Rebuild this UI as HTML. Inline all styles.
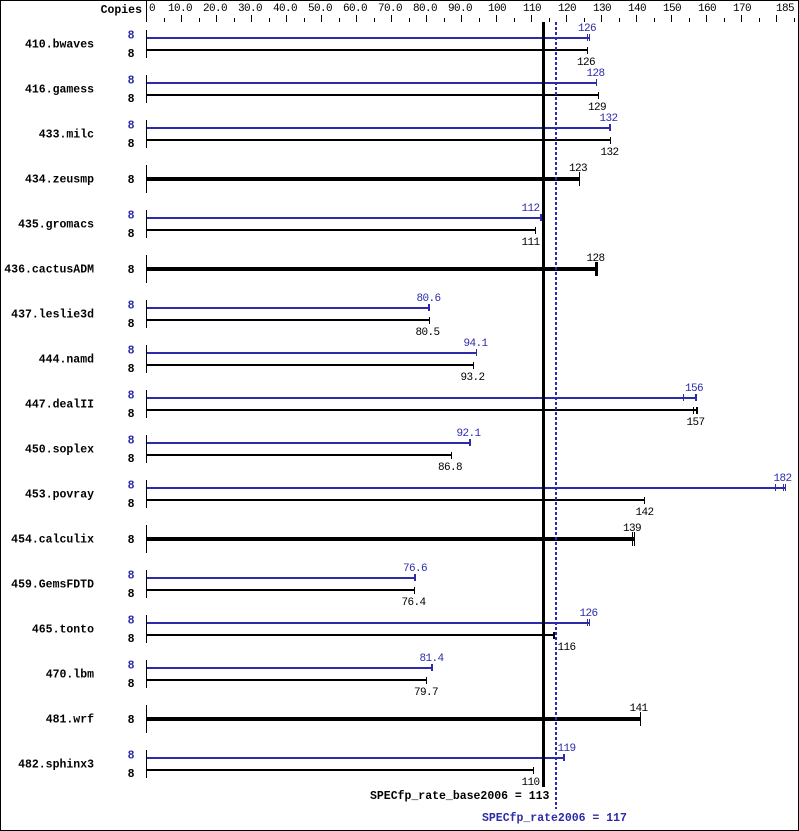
<!DOCTYPE html>
<html><head><meta charset="utf-8">
<style>
html,body{margin:0;padding:0;background:#fff;}
svg{display:block;}
.v{font-family:"Liberation Mono",monospace;font-size:11px;letter-spacing:-0.6px;text-anchor:middle;}
.a{font-family:"Liberation Mono",monospace;font-size:11px;letter-spacing:-0.6px;}
.n{font-family:"Liberation Mono",monospace;font-size:11.5px;font-weight:bold;text-anchor:end;}
.c{font-family:"Liberation Mono",monospace;font-size:11.5px;font-weight:bold;text-anchor:end;}
.b{fill:#2b2bab;}
.k{fill:#000;}
</style></head>
<body>
<svg width="799" height="831" viewBox="0 0 799 831" xmlns="http://www.w3.org/2000/svg" shape-rendering="crispEdges">
<rect x="0.5" y="0.5" width="798" height="830" fill="#fff" stroke="#000" stroke-width="1"/>

<!-- top axis -->
<text x="142" y="13" class="c">Copies</text>
<rect x="146" y="1" width="1" height="21" fill="#000"/>
<g fill="#000">
<rect x="181" y="15" width="1" height="7"/><rect x="216" y="15" width="1" height="7"/><rect x="251" y="15" width="1" height="7"/><rect x="286" y="15" width="1" height="7"/><rect x="321" y="15" width="1" height="7"/><rect x="356" y="15" width="1" height="7"/><rect x="391" y="15" width="1" height="7"/><rect x="426" y="15" width="1" height="7"/><rect x="461" y="15" width="1" height="7"/><rect x="496" y="15" width="1" height="7"/><rect x="531" y="15" width="1" height="7"/><rect x="566" y="15" width="1" height="7"/><rect x="601" y="15" width="1" height="7"/><rect x="636" y="15" width="1" height="7"/><rect x="671" y="15" width="1" height="7"/><rect x="706" y="15" width="1" height="7"/><rect x="741" y="15" width="1" height="7"/><rect x="776" y="15" width="1" height="7"/>
<rect x="164" y="18" width="1" height="4"/><rect x="199" y="18" width="1" height="4"/><rect x="234" y="18" width="1" height="4"/><rect x="269" y="18" width="1" height="4"/><rect x="304" y="18" width="1" height="4"/><rect x="339" y="18" width="1" height="4"/><rect x="374" y="18" width="1" height="4"/><rect x="409" y="18" width="1" height="4"/><rect x="444" y="18" width="1" height="4"/><rect x="479" y="18" width="1" height="4"/><rect x="514" y="18" width="1" height="4"/><rect x="549" y="18" width="1" height="4"/><rect x="584" y="18" width="1" height="4"/><rect x="619" y="18" width="1" height="4"/><rect x="654" y="18" width="1" height="4"/><rect x="689" y="18" width="1" height="4"/><rect x="724" y="18" width="1" height="4"/><rect x="759" y="18" width="1" height="4"/><rect x="794" y="18" width="1" height="4"/>
</g>
<g class="a" fill="#000">
<text x="149" y="11">0</text>
<text x="180" y="11" text-anchor="middle">10.0</text>
<text x="215" y="11" text-anchor="middle">20.0</text>
<text x="250" y="11" text-anchor="middle">30.0</text>
<text x="285" y="11" text-anchor="middle">40.0</text>
<text x="320" y="11" text-anchor="middle">50.0</text>
<text x="355" y="11" text-anchor="middle">60.0</text>
<text x="390" y="11" text-anchor="middle">70.0</text>
<text x="425" y="11" text-anchor="middle">80.0</text>
<text x="460" y="11" text-anchor="middle">90.0</text>
<text x="497" y="11" text-anchor="middle">100</text>
<text x="532" y="11" text-anchor="middle">110</text>
<text x="567" y="11" text-anchor="middle">120</text>
<text x="602" y="11" text-anchor="middle">130</text>
<text x="637" y="11" text-anchor="middle">140</text>
<text x="672" y="11" text-anchor="middle">150</text>
<text x="707" y="11" text-anchor="middle">160</text>
<text x="742" y="11" text-anchor="middle">170</text>
<text x="794" y="11" text-anchor="end">185</text>
</g>

<!-- row axis segments -->
<g fill="#000">
<rect x="146" y="30" width="1" height="28"/><rect x="146" y="75" width="1" height="28"/><rect x="146" y="120" width="1" height="28"/><rect x="146" y="165" width="1" height="28"/><rect x="146" y="210" width="1" height="28"/><rect x="146" y="255" width="1" height="28"/><rect x="146" y="300" width="1" height="28"/><rect x="146" y="345" width="1" height="28"/><rect x="146" y="390" width="1" height="28"/><rect x="146" y="435" width="1" height="28"/><rect x="146" y="480" width="1" height="28"/><rect x="146" y="525" width="1" height="28"/><rect x="146" y="570" width="1" height="28"/><rect x="146" y="615" width="1" height="28"/><rect x="146" y="660" width="1" height="28"/><rect x="146" y="705" width="1" height="28"/><rect x="146" y="750" width="1" height="28"/>
</g>

<!-- names -->
<g class="n" fill="#000">
<text x="94" y="47.5">410.bwaves</text>
<text x="94" y="92.5">416.gamess</text>
<text x="94" y="137.5">433.milc</text>
<text x="94" y="182.5">434.zeusmp</text>
<text x="94" y="227.5">435.gromacs</text>
<text x="94" y="272.5">436.cactusADM</text>
<text x="94" y="317.5">437.leslie3d</text>
<text x="94" y="362.5">444.namd</text>
<text x="94" y="407.5">447.dealII</text>
<text x="94" y="452.5">450.soplex</text>
<text x="94" y="497.5">453.povray</text>
<text x="94" y="542.5">454.calculix</text>
<text x="94" y="587.5">459.GemsFDTD</text>
<text x="94" y="632.5">465.tonto</text>
<text x="94" y="677.5">470.lbm</text>
<text x="94" y="722.5">481.wrf</text>
<text x="94" y="767.5">482.sphinx3</text>
</g>

<!-- copies -->
<g class="c">
<text x="134.5" y="38.5" fill="#2b2bab">8</text><text x="134.5" y="57" fill="#000">8</text>
<text x="134.5" y="83.5" fill="#2b2bab">8</text><text x="134.5" y="102" fill="#000">8</text>
<text x="134.5" y="128.5" fill="#2b2bab">8</text><text x="134.5" y="147" fill="#000">8</text>
<text x="134.5" y="183" fill="#000">8</text>
<text x="134.5" y="218.5" fill="#2b2bab">8</text><text x="134.5" y="237" fill="#000">8</text>
<text x="134.5" y="273" fill="#000">8</text>
<text x="134.5" y="308.5" fill="#2b2bab">8</text><text x="134.5" y="327" fill="#000">8</text>
<text x="134.5" y="353.5" fill="#2b2bab">8</text><text x="134.5" y="372" fill="#000">8</text>
<text x="134.5" y="398.5" fill="#2b2bab">8</text><text x="134.5" y="417" fill="#000">8</text>
<text x="134.5" y="443.5" fill="#2b2bab">8</text><text x="134.5" y="462" fill="#000">8</text>
<text x="134.5" y="488.5" fill="#2b2bab">8</text><text x="134.5" y="507" fill="#000">8</text>
<text x="134.5" y="543" fill="#000">8</text>
<text x="134.5" y="578.5" fill="#2b2bab">8</text><text x="134.5" y="597" fill="#000">8</text>
<text x="134.5" y="623.5" fill="#2b2bab">8</text><text x="134.5" y="642" fill="#000">8</text>
<text x="134.5" y="668.5" fill="#2b2bab">8</text><text x="134.5" y="687" fill="#000">8</text>
<text x="134.5" y="723" fill="#000">8</text>
<text x="134.5" y="758.5" fill="#2b2bab">8</text><text x="134.5" y="777" fill="#000">8</text>
</g>

<!-- bars -->
<!-- row0 c=44 -->
<rect class="b" x="147" y="37" width="443" height="2"/>
<rect class="b" x="587" y="34" width="1" height="7"/><rect class="b" x="589" y="34" width="1" height="7"/>
<rect class="k" x="147" y="49" width="441" height="2"/>
<rect class="k" x="587" y="47" width="1" height="7"/>
<!-- row1 c=89 -->
<rect class="b" x="147" y="82" width="450" height="2"/>
<rect class="b" x="596" y="79" width="1" height="7"/>
<rect class="k" x="147" y="94" width="452" height="2"/>
<rect class="k" x="598" y="92" width="1" height="7"/>
<!-- row2 c=134 -->
<rect class="b" x="147" y="127" width="464" height="2"/>
<rect class="b" x="609" y="124" width="2" height="7"/>
<rect class="k" x="147" y="139" width="464" height="2"/>
<rect class="k" x="610" y="137" width="1" height="7"/>
<!-- row3 c=179 thick -->
<rect class="k" x="147" y="177" width="432" height="4"/>
<rect class="k" x="579" y="172" width="1" height="14"/>
<!-- row4 c=224 -->
<rect class="b" x="147" y="217" width="395" height="2"/>
<rect class="b" x="540" y="214" width="2" height="7"/>
<rect class="k" x="147" y="229" width="389" height="2"/>
<rect class="k" x="535" y="227" width="1" height="7"/>
<!-- row5 c=269 thick -->
<rect class="k" x="147" y="267" width="451" height="4"/>
<rect class="k" x="595" y="262" width="3" height="14"/>
<!-- row6 c=314 -->
<rect class="b" x="147" y="307" width="283" height="2"/>
<rect class="b" x="428" y="304" width="2" height="7"/>
<rect class="k" x="147" y="319" width="283" height="2"/>
<rect class="k" x="429" y="317" width="1" height="7"/>
<!-- row7 c=359 -->
<rect class="b" x="147" y="352" width="330" height="2"/>
<rect class="b" x="476" y="349" width="1" height="7"/>
<rect class="k" x="147" y="364" width="327" height="2"/>
<rect class="k" x="473" y="362" width="1" height="7"/>
<!-- row8 c=404 -->
<rect class="b" x="147" y="397" width="550" height="2"/>
<rect class="b" x="683" y="394" width="1" height="7"/><rect class="b" x="695" y="394" width="2" height="7"/>
<rect class="k" x="147" y="409" width="551" height="2"/>
<rect class="k" x="693" y="407" width="1" height="7"/><rect class="k" x="696" y="407" width="2" height="7"/>
<!-- row9 c=449 -->
<rect class="b" x="147" y="442" width="324" height="2"/>
<rect class="b" x="469" y="439" width="2" height="7"/>
<rect class="k" x="147" y="454" width="305" height="2"/>
<rect class="k" x="451" y="452" width="1" height="7"/>
<!-- row10 c=494 -->
<rect class="b" x="147" y="487" width="639" height="2"/>
<rect class="b" x="775" y="484" width="1" height="7"/><rect class="b" x="783" y="484" width="1" height="7"/><rect class="b" x="785" y="484" width="1" height="7"/>
<rect class="k" x="147" y="499" width="498" height="2"/>
<rect class="k" x="644" y="497" width="1" height="7"/>
<!-- row11 c=539 thick -->
<rect class="k" x="147" y="537" width="488" height="4"/>
<rect class="k" x="632" y="532" width="1" height="14"/><rect class="k" x="634" y="532" width="1" height="14"/>
<!-- row12 c=584 -->
<rect class="b" x="147" y="577" width="269" height="2"/>
<rect class="b" x="414" y="574" width="2" height="7"/>
<rect class="k" x="147" y="589" width="268" height="2"/>
<rect class="k" x="414" y="587" width="1" height="7"/>
<!-- row13 c=629 -->
<rect class="b" x="147" y="622" width="443" height="2"/>
<rect class="b" x="587" y="619" width="1" height="7"/><rect class="b" x="589" y="619" width="1" height="7"/>
<rect class="k" x="147" y="634" width="408" height="2"/>
<rect class="k" x="553" y="632" width="2" height="7"/>
<!-- row14 c=674 -->
<rect class="b" x="147" y="667" width="286" height="2"/>
<rect class="b" x="431" y="664" width="2" height="7"/>
<rect class="k" x="147" y="679" width="280" height="2"/>
<rect class="k" x="426" y="677" width="1" height="7"/>
<!-- row15 c=719 thick -->
<rect class="k" x="147" y="717" width="494" height="4"/>
<rect class="k" x="640" y="712" width="1" height="14"/>
<!-- row16 c=764 -->
<rect class="b" x="147" y="757" width="418" height="2"/>
<rect class="b" x="563" y="754" width="2" height="7"/>
<rect class="k" x="147" y="769" width="387" height="2"/>
<rect class="k" x="533" y="767" width="1" height="7"/>

<!-- value labels -->
<g class="v">
<text x="587" y="31" fill="#2b2bab">126</text><text x="586" y="65" fill="#000">126</text>
<text x="595.5" y="76" fill="#2b2bab">128</text><text x="597" y="110" fill="#000">129</text>
<text x="608.5" y="121" fill="#2b2bab">132</text><text x="609.5" y="155" fill="#000">132</text>
<text x="578" y="171" fill="#000">123</text>
<text x="530.5" y="211" fill="#2b2bab">112</text><text x="530.5" y="245" fill="#000">111</text>
<text x="595.5" y="261" fill="#000">128</text>
<text x="428.5" y="301" fill="#2b2bab">80.6</text><text x="427.5" y="335" fill="#000">80.5</text>
<text x="475.5" y="346" fill="#2b2bab">94.1</text><text x="472.5" y="380" fill="#000">93.2</text>
<text x="694" y="391" fill="#2b2bab">156</text><text x="695.5" y="425" fill="#000">157</text>
<text x="468.5" y="436" fill="#2b2bab">92.1</text><text x="450" y="470" fill="#000">86.8</text>
<text x="782.5" y="481" fill="#2b2bab">182</text><text x="644.5" y="515" fill="#000">142</text>
<text x="632" y="531" fill="#000">139</text>
<text x="415" y="571" fill="#2b2bab">76.6</text><text x="413.5" y="605" fill="#000">76.4</text>
<text x="588.5" y="616" fill="#2b2bab">126</text><text x="566.5" y="650" fill="#000">116</text>
<text x="431.5" y="661" fill="#2b2bab">81.4</text><text x="426" y="695" fill="#000">79.7</text>
<text x="638.5" y="711" fill="#000">141</text>
<text x="566.5" y="751" fill="#2b2bab">119</text><text x="530.5" y="785" fill="#000">110</text>
</g>

<!-- reference lines -->
<rect x="542" y="22" width="3" height="765" fill="#000"/>
<line x1="556" y1="22" x2="556" y2="809" stroke="#2b2bab" stroke-width="2" stroke-dasharray="3 2" shape-rendering="crispEdges"/>

<text x="370" y="799" class="n" style="text-anchor:start" fill="#000">SPECfp_rate_base2006 = 113</text>
<text x="482" y="821" class="n" style="text-anchor:start" fill="#2b2bab">SPECfp_rate2006 = 117</text>
</svg>
</body></html>
